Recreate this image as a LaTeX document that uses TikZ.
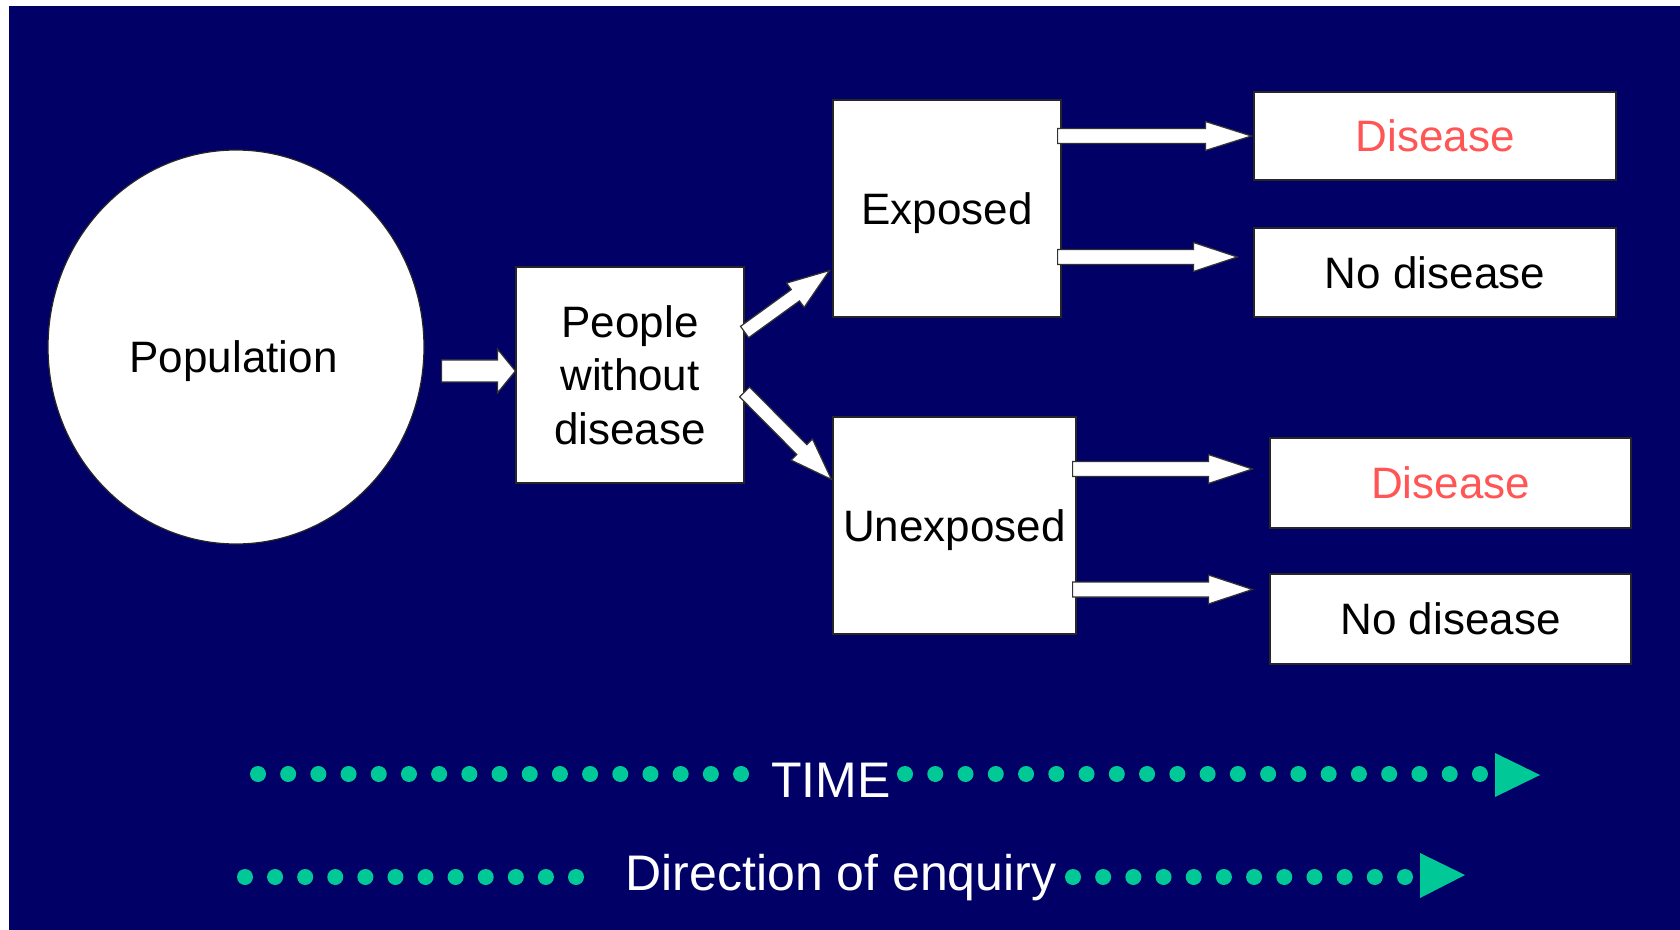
\documentclass[tikz,border=0pt]{standalone}
\usepackage{fontspec}
\setmainfont{Liberation Sans}
\usetikzlibrary{calc,shapes.geometric}

\definecolor{navy}{RGB}{0,0,102}
\definecolor{dotteal}{RGB}{0,200,150}
\definecolor{salmon}{RGB}{255,85,85}

\newcommand\boxfont{\fontsize{22pt}{26.8pt}\selectfont}
\newcommand\bigfont{\fontsize{25pt}{29pt}\selectfont}

% Hollow block arrow from #1 to tip #2:
% #3 half shaft width, #4 half head width, #5 head length
\newcommand\blockarrow[5]{%
  \path (#1) coordinate (ba-s) (#2) coordinate (ba-t);
  \path ($(ba-t)!#5!(ba-s)$) coordinate (ba-h);
  \filldraw[barrow]
    ($(ba-s)!#3!90:(ba-t)$) -- ($(ba-h)!#3!-90:(ba-s)$) --
    ($(ba-h)!#4!-90:(ba-s)$) -- (ba-t) --
    ($(ba-h)!#4!90:(ba-s)$) -- ($(ba-h)!#3!90:(ba-s)$) --
    ($(ba-s)!#3!-90:(ba-t)$) -- cycle;
}

\begin{document}
\begin{tikzpicture}[x=0.5pt,y=-0.5pt,
  box/.style={draw=black!85, line width=0.6pt, fill=white, inner sep=0pt, font=\boxfont},
  onebox/.style={box, text height=15.75pt, text depth=0pt},
  multibox/.style={box, align=center},
  barrow/.style={fill=white, draw=black!80, line width=0.6pt, line join=miter},
  dot/.style={fill=dotteal},
  bigtext/.style={font=\bigfont, text=white, inner sep=0pt}]

% page and slide background
\fill[white] (0,0) rectangle (1680,930);
\fill[navy] (9,6) rectangle (1680,930);
\useasboundingbox (0,0) rectangle (1680,930);

% population and boxes
\node[ellipse, draw=black!85, fill=white, line width=0.6pt, inner sep=0pt,
      minimum width=188pt, minimum height=197pt] (pop) at (236,347) {};
\node[font=\boxfont, anchor=base, inner sep=0pt] (poplabel) at (233.6,372) {Population};

\node[multibox, minimum width=114pt, minimum height=108pt] (ppl) at (630,375)
  {People\\without\\disease};
\node[onebox, minimum width=114pt, minimum height=108.5pt] (exp) at (947,208.5) {Exposed};
\node[onebox, minimum width=121.5pt, minimum height=108.5pt] (unexp) at (954.5,525.5) {Unexposed};

\node[onebox, minimum width=181pt, minimum height=44pt, text=salmon] (dis1) at (1435,136) {Disease};
\node[onebox, minimum width=181pt, minimum height=44.5pt] (nd1) at (1435,272.5) {No disease};
\node[onebox, minimum width=180.5pt, minimum height=45pt, text=salmon] (dis2) at (1450.5,483) {Disease};
\node[onebox, minimum width=180.5pt, minimum height=45pt] (nd2) at (1450.5,619) {No disease};

% block arrows
\coordinate (popout) at ([xshift=8.5pt]pop.east |- ppl.west);
\blockarrow{[yshift=2pt]popout}{[yshift=2pt]ppl.west}{5.5pt}{11pt}{9pt}

\blockarrow{[yshift=21.5pt]ppl.east}{[xshift=-1.5pt,yshift=23.5pt]exp.south west}{3.5pt}{7.5pt}{21pt}
\blockarrow{[yshift=-8.5pt]ppl.east}{[xshift=-0.5pt,yshift=-31.5pt]unexp.north west}{3.5pt}{7.5pt}{21pt}

\coordinate (t1) at ([xshift=-1pt]dis1.west);
\coordinate (t2) at ([xshift=-8pt,yshift=7.75pt]nd1.west);
\coordinate (t3) at ([xshift=-8.5pt,yshift=7pt]dis2.west);
\coordinate (t4) at ([xshift=-8.5pt,yshift=14.75pt]nd2.west);
\blockarrow{[xshift=-2pt]exp.east |- t1}{t1}{3.75pt}{7.25pt}{23pt}
\blockarrow{[xshift=-2pt]exp.east |- t2}{t2}{3.75pt}{7.25pt}{22pt}
\blockarrow{[xshift=-2pt]unexp.east |- t3}{t3}{3.75pt}{7.25pt}{22pt}
\blockarrow{[xshift=-2pt]unexp.east |- t4}{t4}{3.75pt}{7.25pt}{22pt}

% time line
\node[bigtext] (time) at (831,780) {TIME};
\foreach \i in {0,...,16} \fill[dot] ({258+\i*30.19},774) circle (4pt);
\foreach \i in {0,...,19} \fill[dot] ({905+\i*30.26},774) circle (4pt);
\coordinate (timetip) at (1540,775);
\fill[dot] (1495,753) -- (timetip) -- (1495,797) -- cycle;

% direction of enquiry line
\node[bigtext, anchor=base] (enq) at (841,890) {Direction of enquiry};
\foreach \i in {0,...,11} \fill[dot] ({245+\i*30.09},877) circle (4pt);
\foreach \i in {0,...,11} \fill[dot] ({1073+\i*30.18},877) circle (4pt);
\coordinate (enqtip) at (1465,875);
\fill[dot] (1420,853) -- (enqtip) -- (1420,898) -- cycle;

\end{tikzpicture}
\end{document}
